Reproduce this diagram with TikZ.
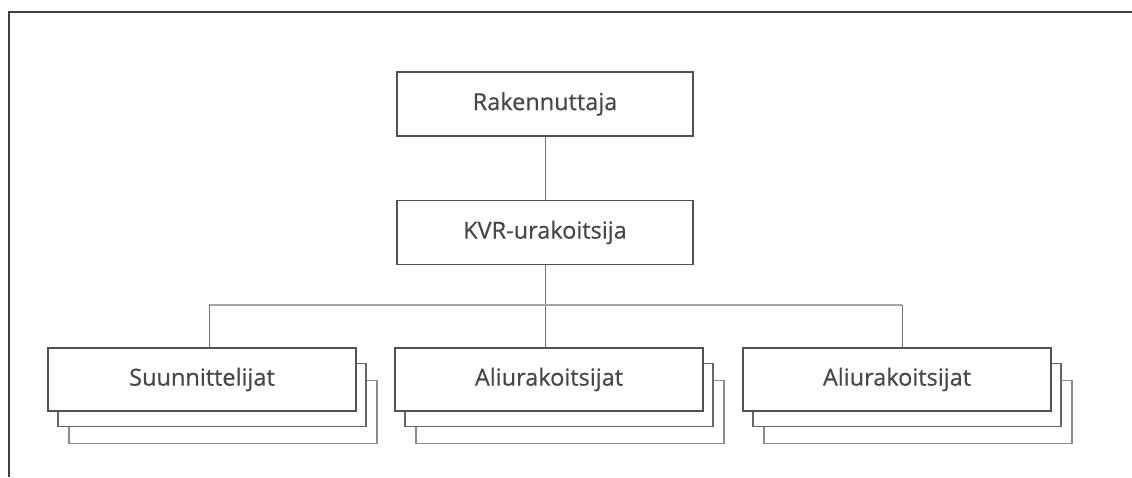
\documentclass[tikz,border=0pt]{standalone}
\usepackage{fontspec}
\setmainfont{Open Sans}
\newfontfamily\labelfont[FakeBold=0.5]{Open Sans}
\begin{document}
\begin{tikzpicture}[x=1pt,y=-1pt,
  box/.style={draw=black!68,line width=1.6pt,fill=white,minimum width=308pt,minimum height=63pt,
    inner sep=0pt,font=\labelfont\fontsize{23.5}{26}\selectfont,text=black!72},
  topbox/.style={box,minimum width=296pt,minimum height=64pt},
  link/.style={draw=black!55,line width=1pt},
  bus/.style={draw=black!35,line width=1.6pt}]
\useasboundingbox (0,0) rectangle (1132,477);
% outer frame (only top and left edges visible)
\draw[black!75,line width=2pt] (9,477) -- (9,12) -- (1132,12);
% top two boxes
\node[topbox] (rak) at (545,104) {Rakennuttaja};
\node[topbox] (kvr) at (545,232.5) {KVR-urakoitsija};
% stacked boxes
\foreach \n/\cx/\t in {s/202/Suunnittelijat, a/549/Aliurakoitsijat, b/897/Aliurakoitsijat}{
  \node[box,draw=black!45,line width=1.4pt] (\n3) at (\cx+21,412) {};
  \node[box,draw=black!60] (\n2) at (\cx+10,395) {};
  \node[box] (\n) at (\cx,379.5) {\t};
}
\coordinate (bl) at (209,305);
\coordinate (br) at (902,305);
\draw[link] (rak) -- (kvr);
\draw[link] (kvr.south) -- (kvr.south |- a.north);
\draw[bus] (bl) -- (br);
\draw[link] (bl) -- (bl |- s.north);
\draw[link] (br) -- (br |- b.north);
\end{tikzpicture}
\end{document}
